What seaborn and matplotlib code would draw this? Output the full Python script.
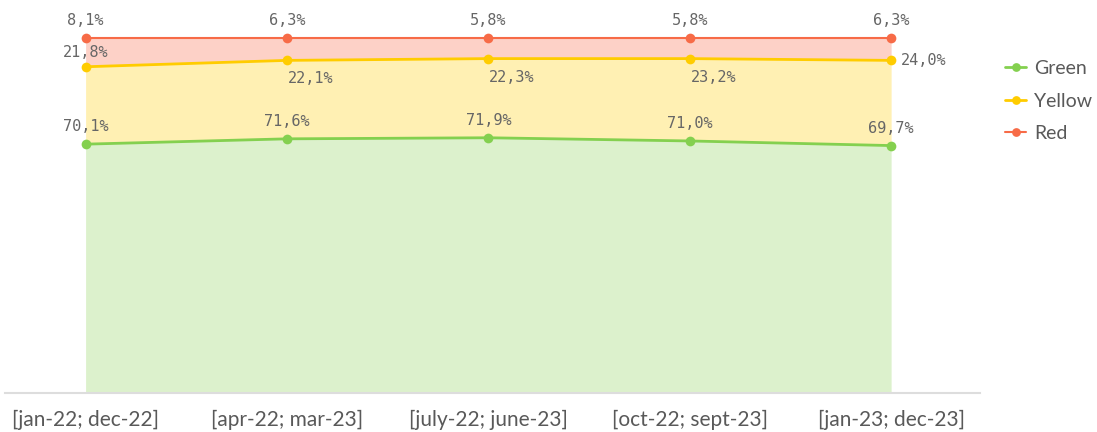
import numpy as np
import pandas as pd
import matplotlib.pyplot as plt
import seaborn as sns

periods = ["[jan-22; dec-22]", "[apr-22; mar-23]", "[july-22; june-23]",
           "[oct-22; sept-23]", "[jan-23; dec-23]"]
green = [70.1, 71.6, 71.9, 71.0, 69.7]
yellow = [21.8, 22.1, 22.3, 23.2, 24.0]
red = [8.1, 6.3, 5.8, 5.8, 6.3]

series = ["Green", "Yellow", "Red"]
line_colors = {"Green": "#84d04f", "Yellow": "#ffcc00", "Red": "#f76b47"}
fill_colors = {"Green": "#dcf1cc", "Yellow": "#fff0b3", "Red": "#fdd1c7"}
line_widths = {"Green": 2.0, "Yellow": 2.0, "Red": 1.5}

sns.set_style("white")
plt.rcParams["font.family"] = ["Lato", "DejaVu Sans"]

x = np.arange(len(periods))
tops = {"Green": np.array(green)}
tops["Yellow"] = tops["Green"] + np.array(yellow)
tops["Red"] = tops["Yellow"] + np.array(red)

fig = plt.figure(figsize=(10.97, 4.32), dpi=100)
ax = fig.add_axes([0.0046, 0.0903, 0.8885, 0.8217])

bottom = np.zeros(len(x))
for s in series:
    ax.fill_between(x, bottom, tops[s], color=fill_colors[s], lw=0, zorder=1)
    bottom = tops[s]

for s in series:
    d = pd.DataFrame({"x": x, "top": tops[s]})
    sns.lineplot(data=d, x="x", y="top", color=line_colors[s], label=s,
                 marker="o", markersize=7, markeredgewidth=0,
                 linewidth=line_widths[s], ax=ax, zorder=3, clip_on=False)

lab = dict(family="DejaVu Sans Mono", fontsize=11, color="#666666")
fmt = lambda v: f"{v:.1f}%".replace(".", ",")
for i in x:
    ax.annotate(fmt(red[i]), (i, tops["Red"][i]), xytext=(0, 7),
                textcoords="offset points", ha="center", va="bottom", **lab)
    ax.annotate(fmt(green[i]), (i, tops["Green"][i]), xytext=(0, 7),
                textcoords="offset points", ha="center", va="bottom", **lab)
    if i == 0:
        ax.annotate(fmt(yellow[i]), (i, tops["Yellow"][i]), xytext=(0, 5),
                    textcoords="offset points", ha="center", va="bottom", **lab)
    elif i == len(x) - 1:
        ax.annotate(fmt(yellow[i]), (i, tops["Yellow"][i]), xytext=(7, 0),
                    textcoords="offset points", ha="left", va="center", **lab)
    else:
        ax.annotate(fmt(yellow[i]), (i, tops["Yellow"][i]), xytext=(17, -8),
                    textcoords="offset points", ha="center", va="top", **lab)

ax.set_xlim(-0.4, 4.44)
ax.set_ylim(0, 100)
ax.set_xticks(x)
ax.set_xticklabels(periods, fontsize=15, color="#595959")
ax.tick_params(axis="x", length=0, pad=12)
ax.set_yticks([])
ax.set_xlabel("")
ax.set_ylabel("")
for side in ["top", "right", "left"]:
    ax.spines[side].set_visible(False)
ax.spines["bottom"].set_color("#dddddd")
ax.spines["bottom"].set_linewidth(1.5)

handles, labels = ax.get_legend_handles_labels()
ax.legend(handles, labels, loc="upper left", bbox_to_anchor=(1.018, 0.96),
          frameon=False, fontsize=14, labelcolor="#595959", handlelength=1.1,
          handletextpad=0.4, labelspacing=0.8, markerscale=0.9,
          borderaxespad=0)

fig.savefig("out.png", dpi=100)
